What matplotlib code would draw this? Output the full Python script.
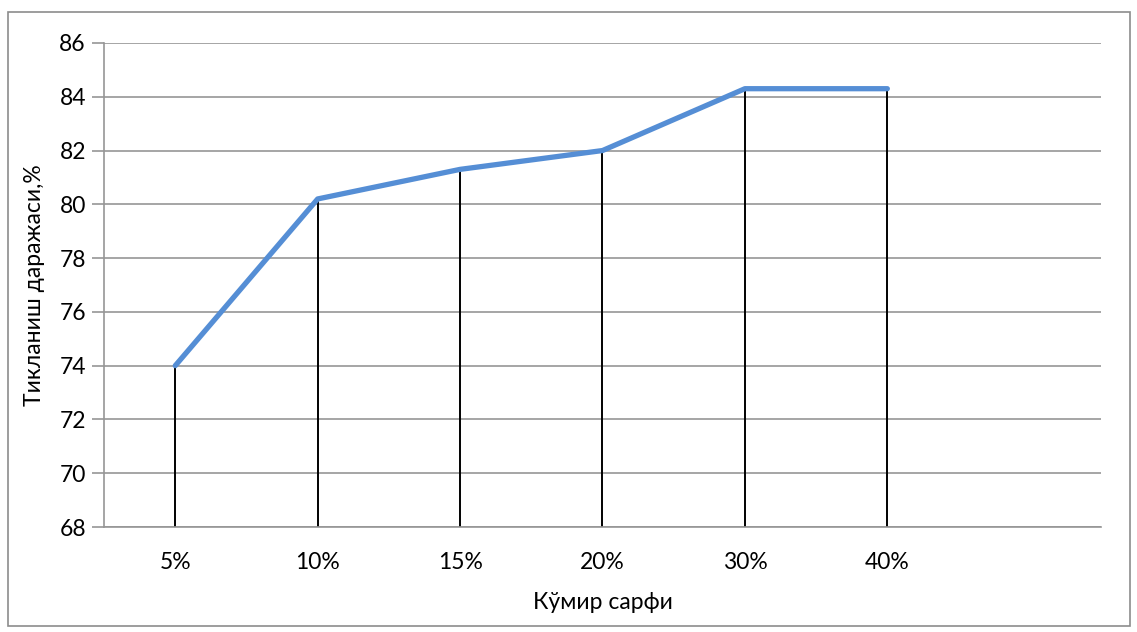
"""Тикланиш даражаси кўмир сарфига боғлиқлиги (drop lines bilan chiziqli grafik)."""

import matplotlib
matplotlib.use("Agg")
import matplotlib.pyplot as plt
from matplotlib.patches import Rectangle

plt.rcParams["font.family"] = ["Lato", "Open Sans", "DejaVu Sans"]

categories = ["5%", "10%", "15%", "20%", "30%", "40%"]
recovery = [74.0, 80.2, 81.3, 82.0, 84.3, 84.3]
y_ticks = [68, 70, 72, 74, 76, 78, 80, 82, 84, 86]

LINE_COLOR = "#558ED5"
GRID_COLOR = "#969696"
FS = 16.5

fig = plt.figure(figsize=(11.37, 6.32), dpi=100)
ax = fig.add_axes([0.0915, 0.1661, 0.8768, 0.7659])

x = list(range(len(categories)))
ax.vlines(x, 68, recovery, color="black", linewidth=1.4, zorder=2)
ax.plot(x, recovery, color=LINE_COLOR, linewidth=3.8, solid_capstyle="round",
        solid_joinstyle="round", zorder=3)

ax.set_xlim(-0.5, 6.5)
ax.set_ylim(68, 86)
ax.set_yticks(y_ticks)
ax.set_xticks(x)
ax.set_xticklabels(categories)
ax.grid(axis="y", color=GRID_COLOR, linewidth=1.2)
ax.set_axisbelow(True)

for side in ["top", "right"]:
    ax.spines[side].set_visible(False)
for side in ["left", "bottom"]:
    ax.spines[side].set_color(GRID_COLOR)
    ax.spines[side].set_linewidth(1.2)

ax.tick_params(axis="y", length=9, width=1.2, color=GRID_COLOR, labelsize=FS, pad=4)
ax.tick_params(axis="x", length=0, labelsize=FS, pad=18)

ax.set_ylabel("Тикланиш даражаси,%", fontsize=FS, labelpad=10)
ax.set_xlabel("Кўмир сарфи", fontsize=FS, labelpad=14)

# chart-area border
fig.patches.append(Rectangle((8 / 1137, 6 / 632), 1122 / 1137, 614 / 632,
                             transform=fig.transFigure, fill=False,
                             edgecolor="#8c8c8c", linewidth=1.2))

fig.savefig("out.png", dpi=100)
